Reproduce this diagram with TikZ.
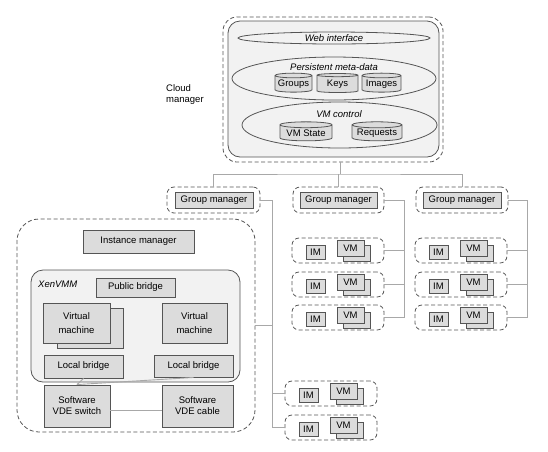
\documentclass[tikz,border=0pt]{standalone}
\usepackage{fontspec}
\setmainfont{Liberation Sans}
\usetikzlibrary{shapes.geometric,calc}
\definecolor{bfill}{HTML}{DCDCDC}
\definecolor{bdraw}{HTML}{555555}
\definecolor{cfill}{HTML}{F2F2F2}
\definecolor{lcol}{HTML}{A8A8A8}
\definecolor{dcol}{HTML}{555555}
\newcommand\bx[7][]{\node[#1, minimum width={(#5)-(#3)}, minimum height={(#6)-(#4)}] (#2) at ({((#3)+(#5))/2},{((#4)+(#6))/2}) {#7};}
\newcommand\imvm[3]{%
  \bx[dbox]{#1}{#2}{#3}{#2+92}{#3+25}{}
  \bx[gbox]{#1im}{#2+14}{#3+7}{#2+33}{#3+21}{IM}
  \bx[gbox]{#1vb}{#2+51}{#3+7}{#2+78}{#3+23}{}
  \bx[gbox]{#1vm}{#2+45}{#3+2}{#2+72}{#3+18}{VM}
}
\begin{document}
\begin{tikzpicture}[x=1pt,y=-1pt,font=\fontsize{9.5}{11}\selectfont,
  gbox/.style={draw=bdraw,fill=bfill,line width=0.9pt,inner sep=0pt},
  dbox/.style={draw=dcol,dash pattern=on 4pt off 2.5pt,line width=0.8pt,rounded corners=7pt,inner sep=0pt},
  cont/.style={draw=bdraw,fill=cfill,line width=0.8pt,inner sep=0pt},
  ell/.style={ellipse,draw=bdraw,fill=cfill,line width=0.8pt,inner sep=0pt},
  cyl/.style={cylinder,shape border rotate=90,aspect=0.15,draw=bdraw,fill=bfill,line width=0.8pt,inner sep=0pt},
  ital/.style={font=\fontsize{9.5}{11}\selectfont\itshape,inner sep=0pt},
  conn/.style={draw=lcol,line width=0.9pt}]
\useasboundingbox[fill=white] (0,0) rectangle (548,451);

% Cloud manager
\bx[dbox,rounded corners=14pt]{cm}{223}{17}{443}{162}{}
\bx[cont,rounded corners=12pt]{cmi}{228}{21}{439}{157}{}
\node[ell,minimum width=192,minimum height=12] (web) at (334,38) {};
\node[ital] (webl) at (web) {Web interface};
\node[ell,minimum width=204,minimum height=43] (pmd) at (334,78.5) {};
\node[ital] (pmdl) at (334,67) {Persistent meta-data};
\node[cyl,minimum width=37,minimum height=19] (grp) at (293.5,84) {Groups};
\node[cyl,minimum width=41,minimum height=19] (keys) at (337.5,84) {Keys};
\node[cyl,minimum width=39,minimum height=19] (img) at (381.5,84) {Images};
\node[ell,minimum width=195,minimum height=46] (vmc) at (339.5,125) {};
\node[ital] (vmcl) at (339,114) {VM control};
\node[cyl,minimum width=52,minimum height=19] (vms) at (306,133) {VM State};
\node[cyl,minimum width=50,minimum height=19] (req) at (377,133) {Requests};
\node[align=left,anchor=west,inner sep=0pt] (cml) at (166,95) {Cloud\\manager};

% Group managers
\bx[dbox]{gm1o}{167}{187}{260}{213}{}
\bx[gbox]{gm1}{175}{192}{253}{208}{Group manager}
\bx[dbox]{gm2o}{293}{187}{384}{213}{}
\bx[gbox]{gm2}{300}{192}{377}{208}{Group manager}
\bx[dbox]{gm3o}{416}{187}{508}{213}{}
\bx[gbox]{gm3}{423}{192}{501}{208}{Group manager}

% IM / VM groups
\imvm{ra}{292}{238}
\imvm{rb}{292}{272}
\imvm{rc}{292}{305}
\imvm{sa}{415}{238}
\imvm{sb}{415}{272}
\imvm{sc}{415}{305}
\imvm{ba}{285}{381}
\imvm{bb}{285}{415}

% Instance manager detail
\bx[dbox,rounded corners=22pt]{imo}{17}{219}{255}{432}{}
\bx[gbox]{imgr}{83}{230}{194}{253}{Instance manager}
\bx[cont,rounded corners=12pt]{xen}{31}{270}{240}{382}{}
\node[ital,anchor=west] (xenl) at (38,284) {XenVMM};
\bx[gbox]{pb}{96}{278}{175}{297}{Public bridge}
\bx[gbox]{vm1b}{57}{308}{123}{348}{}
\bx[gbox,align=center]{vm1}{43}{303}{110}{343}{Virtual\\[3pt]machine}
\bx[gbox,align=center]{vm2}{162}{303}{227}{343}{Virtual\\[3pt]machine}
\bx[gbox]{lb1}{44}{355}{123}{378}{Local bridge}
\bx[gbox]{lb2}{154}{355}{233}{377}{Local bridge}
\bx[gbox,align=center]{sw}{44}{385}{110}{427}{Software\\VDE switch}
\bx[gbox,align=center]{vc}{162}{385}{233}{427}{Software\\VDE cable}
\draw[conn] (lb1.south) -- (sw.north);
\draw[conn] (lb2.south) -- (sw.north);
\draw[conn] ([yshift=-4pt]sw.east) -- ([yshift=-4pt]vc.west);

% Connectors
\coordinate (bus) at (340,174);
\draw[conn] (cm.south -| bus) -- (bus);
\draw[conn] (gm1o.north) |- (bus) -| (gm3o.north);
\draw[conn] (gm2o.north) -- (gm2o.north |- bus);

\coordinate (t1) at ($(gm1o.east)+(12,0)$);
\draw[conn] (gm1o.east) -- (t1) |- (bb.west);
\draw[conn] (imo.east) -- (imo.east -| t1);
\draw[conn] (ba.west) -- (ba.west -| t1);

\coordinate (t2) at ($(gm2o.east)+(20,0)$);
\draw[conn] (gm2o.east) -- (t2) |- (rc.east);
\draw[conn] (ra.east) -- (ra.east -| t2);
\draw[conn] (rb.east) -- (rb.east -| t2);

\coordinate (t3) at ($(gm3o.east)+(19,0)$);
\draw[conn] (gm3o.east) -- (t3) |- (sc.east);
\draw[conn] (sa.east) -- (sa.east -| t3);
\draw[conn] (sb.east) -- (sb.east -| t3);
\end{tikzpicture}
\end{document}
